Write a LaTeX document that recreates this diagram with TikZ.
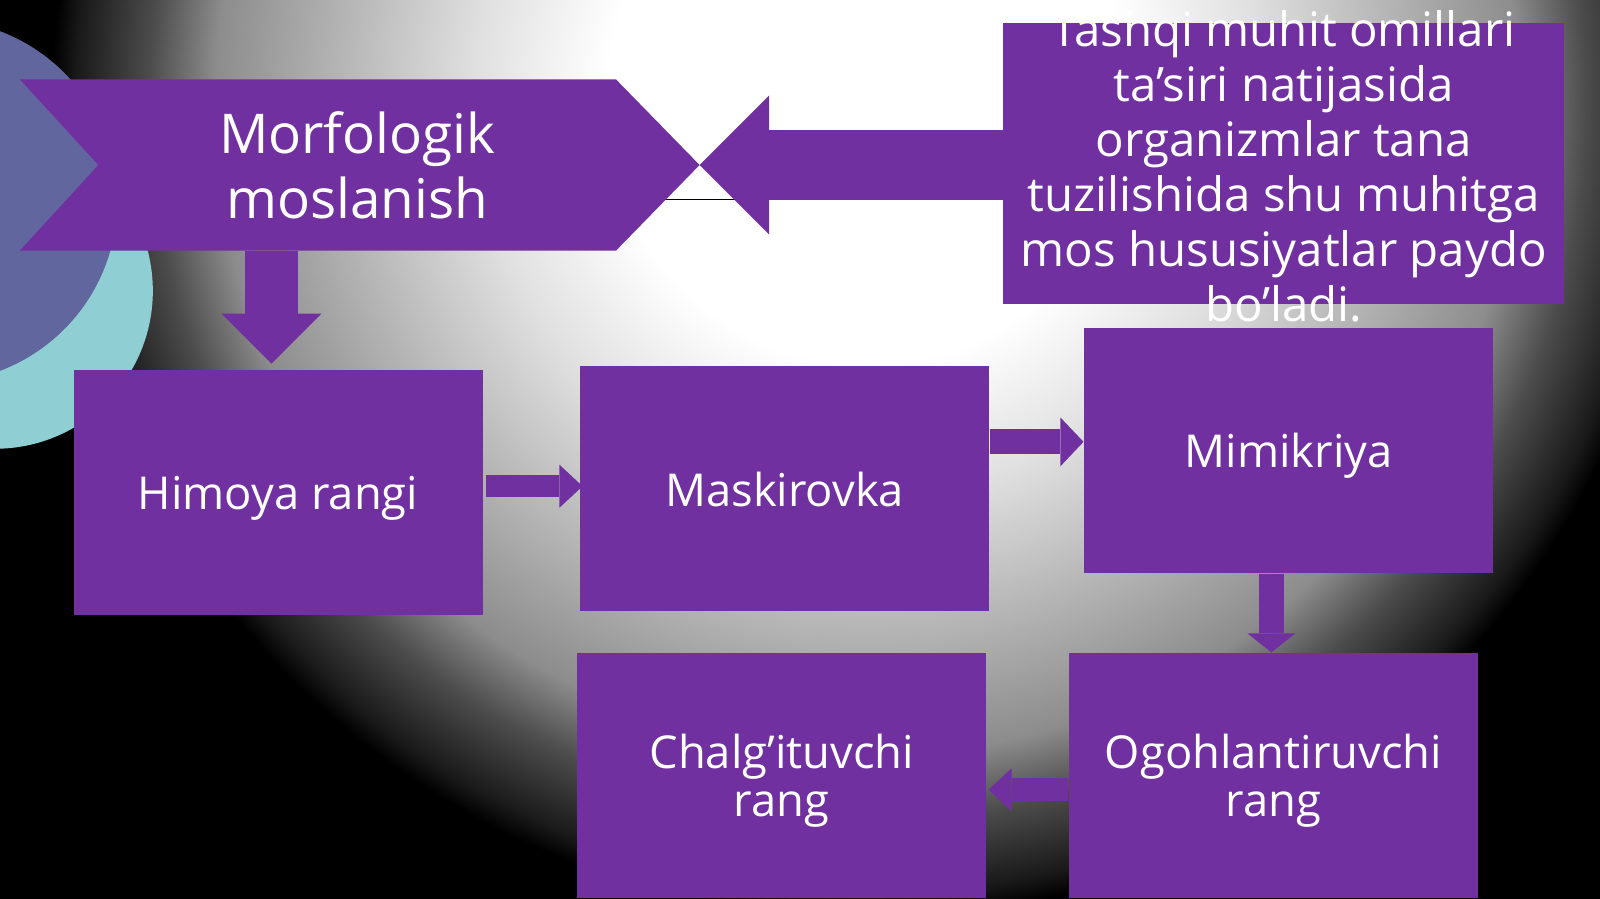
\documentclass[tikz,border=0pt]{standalone}
\usepackage{fontspec}
\setmainfont{Open Sans}
\usepackage{tikz}
\usepackage{xcolor}
\usetikzlibrary{shapes,arrows.meta,calc}
\definecolor{purp}{RGB}{112,48,160}
\definecolor{circblue}{RGB}{98,102,158}
\definecolor{circteal}{RGB}{143,206,210}
\pgfdeclareradialshading{glow}{\pgfpoint{0bp}{0bp}}{color(0bp)=(white); color(8bp)=(white); color(12bp)=(black!12); color(14.5bp)=(black!22); color(20bp)=(black!45); color(22bp)=(black!70); color(24.25bp)=(black!90); color(25bp)=(black); color(50bp)=(black)}

\begin{document}
\begin{tikzpicture}[x=0.010204cm,y=-0.010204cm]
	\tikzstyle{box}=[rectangle,fill=purp,minimum width=4.092cm,minimum height=2.449cm,inner sep=0pt]
	\tikzstyle{txt}=[text=white,align=center,inner sep=0pt,text depth=0pt,font=\fontsize{12.9}{13.7}\selectfont]
	\tikzstyle{blk}=[draw=purp]
	
	\useasboundingbox (0,0) rectangle (1568,881);
	\fill[black] (0,0) rectangle (1568,881);
	\shade[shading=glow] (850,100) ellipse [x radius=8.16cm,y radius=8.16cm];
	\fill[circteal] (-5,285) circle [radius=1.58cm];
	\fill[circblue] (-63,197) circle [radius=1.816cm];
	\draw[black,line width=0.5pt] (600,195.4) -- (760,195.4);
	
	\node[minimum width=5.163cm,minimum height=1.70cm,inner sep=0pt] (morf) at (350,161.7) {};
	\coordinate (morftip) at ($(morf.east)+(82,0)$);
	\fill[purp] ($(morf.north west)+(-77,0)$) -- (morf.north east) -- (morftip) -- (morf.south east) -- ($(morf.south west)+(-77,0)$) -- (morf.west) -- cycle;
	\node[txt,font=\fontsize{15.6}{18.3}\selectfont] (morftxt) at (morf) {Morfologik\\moslanish};
	
	\node[box,minimum width=5.606cm,minimum height=2.811cm] (omil) at (1258,160.25) {};
	\node[txt,font=\fontsize{13.5}{15.7}\selectfont] (omiltxt) at (1258,162.7) {Tashqi muhit omillari\\ta’siri natijasida\\organizmlar tana\\tuzilishida shu muhitga\\mos hususiyatlar paydo\\bo’ladi.};
	
	\node[box,txt] (himoya) at (272.5,483) {Himoya rangi};
	\node[box,txt] (mask) at (769,479) {Maskirovka};
	\node[box,txt] (mimik) at (1263,441.5) {Mimikriya};
	\node[box,txt] (chalg) at (766,760) {Chalg’ituvchi\\rang};
	\node[box,txt] (ogoh) at (1248,760) {Ogohlantiruvchi\\rang};
	
	\draw[blk,line width=15pt,-{Triangle[width=28.4pt,length=14.2pt,line width=0pt]}] ($(morf.south)+(-84,0)$) -- ($(himoya.north)+(-6.5,-6)$);
	\draw[blk,line width=19.8pt,-{Triangle[width=39.6pt,length=19.8pt,line width=0pt]}] (omil.west |- morftip) -- (morftip);
	\draw[blk,line width=6.4pt,-{Triangle[width=12.3pt,length=6.6pt,line width=0pt]}] ($(himoya.east)+(3,-6.5)$) -- ($(mask.west)+(3,-2.5)$);
	\draw[blk,line width=7.2pt,-{Triangle[width=13.9pt,length=6.6pt,line width=0pt]}] ($(mask.east)+(0,-46)$) -- ($(mimik.west)+(0,-8.5)$);
	\draw[blk,line width=6.9pt,-{Triangle[width=13.6pt,length=5.4pt,line width=0pt]}] ($(mimik.south)+(-17,0)$) -- ($(ogoh.north)+(-2,0)$);
	\draw[blk,line width=6.6pt,-{Triangle[width=12.3pt,length=6.6pt,line width=0pt]}] ($(ogoh.west)+(0,14)$) -- ($(chalg.east)+(1.6,14)$);
\end{tikzpicture}
\end{document}
